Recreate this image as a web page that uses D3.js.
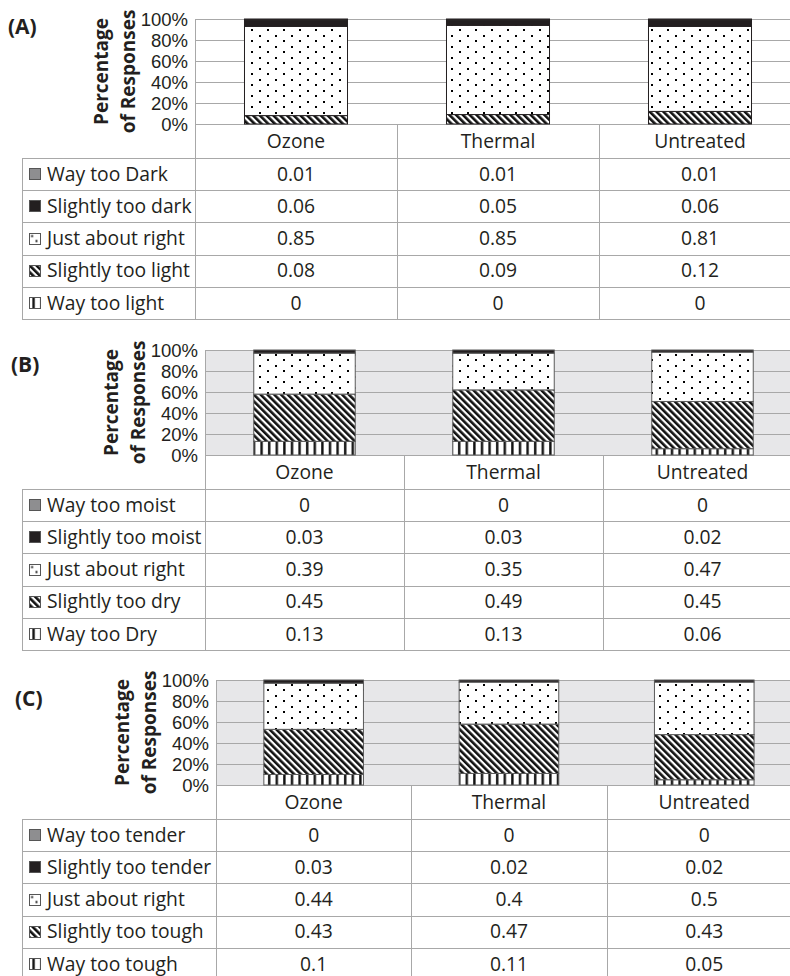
<!DOCTYPE html>
<html>
<head>
<meta charset="utf-8">
<script src="https://cdn.jsdelivr.net/npm/d3@7"></script>
<style>
  body { margin: 0; background: #fff; }
  svg { display: block; }
  text { font-family: 'Open Sans', sans-serif; fill: #231f20; }
</style>
</head>
<body>
<div id="chart"></div>
<script>
const categories = ['Ozone', 'Thermal', 'Untreated']
const percentTicks = [0, 0.2, 0.4, 0.6, 0.8, 1]

// (A) colour
const colorLabels = ['Way too Dark', 'Slightly too dark', 'Just about right', 'Slightly too light', 'Way too light']
const colorValues = [
  [0.01, 0.01, 0.01],
  [0.06, 0.05, 0.06],
  [0.85, 0.85, 0.81],
  [0.08, 0.09, 0.12],
  [0, 0, 0]
]

// (B) moistness
const moistLabels = ['Way too moist', 'Slightly too moist', 'Just about right', 'Slightly too dry', 'Way too Dry']
const moistValues = [
  [0, 0, 0],
  [0.03, 0.03, 0.02],
  [0.39, 0.35, 0.47],
  [0.45, 0.49, 0.45],
  [0.13, 0.13, 0.06]
]

// (C) tenderness
const tenderLabels = ['Way too tender', 'Slightly too tender', 'Just about right', 'Slightly too tough', 'Way too tough']
const tenderValues = [
  [0, 0, 0],
  [0.03, 0.02, 0.02],
  [0.44, 0.4, 0.5],
  [0.43, 0.47, 0.43],
  [0.1, 0.11, 0.05]
]

const panels = [
  { tag: '(A)', tagX: 8, tagY: 34, top: 19, left: 195, step: 202, bg: '#ffffff', barStroke: '#231f20', labels: colorLabels, values: colorValues },
  { tag: '(B)', tagX: 11, tagY: 372, top: 350, left: 205, step: 199, bg: '#e7e7e9', barStroke: '#5a5a5a', labels: moistLabels, values: moistValues },
  { tag: '(C)', tagX: 15, tagY: 706, top: 680, left: 216, step: 195.3, bg: '#e7e7e9', barStroke: '#5a5a5a', labels: tenderLabels, values: tenderValues }
]

const W = 790, H = 976
const plotH = 105
const headH = 34
const rowH = 32.2
const tableLeft = 22
const lineColor = '#a8a8a8'
const fontSize = 19.3

const svg = d3.select('#chart').append('svg')
  .attr('width', W)
  .attr('height', H)
svg.append('rect').attr('width', W).attr('height', H).attr('fill', '#fff')

// fill patterns
const defs = svg.append('defs')
let dots = defs.append('pattern')
  .attr('id', 'dots')
  .attr('patternUnits', 'userSpaceOnUse')
  .attr('width', 16).attr('height', 11)
dots.append('rect').attr('width', 16).attr('height', 11).attr('fill', '#fff')
dots.append('rect').attr('x', 3).attr('y', 2).attr('width', 2).attr('height', 2).attr('fill', '#000')
dots.append('rect').attr('x', 11).attr('y', 7).attr('width', 2).attr('height', 2).attr('fill', '#000')

// small version for the table key
let dotsKey = defs.append('pattern')
  .attr('id', 'dotsKey')
  .attr('patternUnits', 'objectBoundingBox')
  .attr('patternContentUnits', 'objectBoundingBox')
  .attr('width', 1).attr('height', 1)
dotsKey.append('rect').attr('width', 1).attr('height', 1).attr('fill', '#fff')
dotsKey.append('rect').attr('x', 0.15).attr('y', 0.15).attr('width', 0.17).attr('height', 0.17).attr('fill', '#000')
dotsKey.append('rect').attr('x', 0.55).attr('y', 0.6).attr('width', 0.17).attr('height', 0.17).attr('fill', '#000')

let diag = defs.append('pattern')
  .attr('id', 'diag')
  .attr('patternUnits', 'userSpaceOnUse')
  .attr('width', 4.8).attr('height', 10)
  .attr('patternTransform', 'rotate(-45)')
diag.append('rect').attr('width', 4.8).attr('height', 10).attr('fill', '#fff')
diag.append('rect').attr('width', 2.6).attr('height', 10).attr('fill', '#111')

let vert = defs.append('pattern')
  .attr('id', 'vert')
  .attr('patternUnits', 'userSpaceOnUse')
  .attr('width', 7.6).attr('height', 10)
vert.append('rect').attr('width', 7.6).attr('height', 10).attr('fill', '#fff')
vert.append('rect').attr('x', 2).attr('width', 2.4).attr('height', 10).attr('fill', '#111')

// row index -> fill (rows listed top to bottom, stacked bottom to top)
const fills = ['#8e8e90', '#231f20', 'url(#dots)', 'url(#diag)', 'url(#vert)']
const keyFills = ['#8e8e90', '#231f20', 'url(#dotsKey)', 'url(#diag)', 'url(#vert)']
const px = (v) => Math.round(v) + 0.5

panels.forEach((p) => {
  let g = svg.append('g')
  let bottom = p.top + plotH

  let ys = d3.scaleLinear().domain([0, 1]).range([bottom, p.top])
  let xs = d3.scaleBand()
    .domain(categories)
    .range([p.left, p.left + 3 * p.step])
    .paddingInner(0.49)
    .paddingOuter(0.245)
  let right = xs.range()[1]

  // plot background + gridlines
  g.append('rect')
    .attr('x', p.left).attr('y', p.top)
    .attr('width', right - p.left).attr('height', plotH)
    .attr('fill', p.bg)
  g.selectAll('.grid')
    .data(percentTicks)
    .enter()
    .append('path')
    .attr('d', (d) => `M${p.left},${px(ys(d))}H${right}`)
    .attr('stroke', lineColor)
  g.append('path')
    .attr('d', `M${px(p.left)},${px(p.top)}V${bottom}`)
    .attr('stroke', lineColor)

  // y axis tick labels
  let yAxis = g.append('g')
    .attr('transform', `translate(${p.left - 7},0)`)
    .call(d3.axisLeft(ys).tickValues(percentTicks).tickFormat(d3.format('.0%')).tickSize(0).tickPadding(0))
  yAxis.select('.domain').remove()
  yAxis.selectAll('text')
    .attr('font-family', null)
    .style('font-family', "'Liberation Sans', sans-serif")
    .style('font-size', '18.5px')
    .attr('dy', '0.36em')

  // y axis title (two lines)
  let cy = (p.top + bottom) / 2
  g.append('text')
    .attr('transform', `translate(${p.left - 94},${cy}) rotate(-90)`)
    .attr('text-anchor', 'middle')
    .attr('dy', '0.35em')
    .style('font-size', '19px')
    .style('font-weight', 'bold')
    .text('Percentage')
  g.append('text')
    .attr('transform', `translate(${p.left - 67},${cy}) rotate(-90)`)
    .attr('text-anchor', 'middle')
    .attr('dy', '0.35em')
    .style('font-size', '19px')
    .style('font-weight', 'bold')
    .text('of Responses')

  // panel tag
  g.append('text')
    .attr('x', p.tagX).attr('y', p.tagY)
    .style('font-size', '21px')
    .style('font-weight', 'bold')
    .text(p.tag)

  // stacked bars
  let rows = categories.map((c, i) => {
    let o = { cat: c }
    p.values.forEach((vals, k) => { o['s' + k] = vals[i] })
    return o
  })
  let stack = d3.stack().keys(['s4', 's3', 's2', 's1', 's0'])
  let series = stack(rows)
  g.selectAll('.series')
    .data(series)
    .enter()
    .append('g')
    .attr('fill', (s) => fills[+s.key.slice(1)])
    .selectAll('rect')
    .data((s) => s.filter((d) => d[1] - d[0] > 0))
    .enter()
    .append('rect')
    .attr('x', (d) => xs(d.data.cat))
    .attr('width', xs.bandwidth())
    .attr('y', (d) => ys(d[1]))
    .attr('height', (d) => ys(d[0]) - ys(d[1]))
    .attr('stroke', p.barStroke)
    .attr('stroke-width', 1)

  // data table
  let headBottom = bottom + headH
  let tableBottom = headBottom + rowH * p.labels.length
  let colEdges = d3.range(4).map((i) => p.left + i * p.step)

  g.selectAll('.col')
    .data(colEdges)
    .enter()
    .append('path')
    .attr('d', (d) => `M${px(d)},${bottom}V${tableBottom}`)
    .attr('stroke', lineColor)
  g.append('path')
    .attr('d', `M${px(tableLeft)},${headBottom}V${tableBottom}`)
    .attr('stroke', lineColor)
  g.selectAll('.row')
    .data(d3.range(p.labels.length + 1))
    .enter()
    .append('path')
    .attr('d', (i) => `M${tableLeft},${px(headBottom + i * rowH)}H${right}`)
    .attr('stroke', lineColor)

  // category header
  g.selectAll('.cat')
    .data(categories)
    .enter()
    .append('text')
    .attr('x', (d) => xs(d) + xs.bandwidth() / 2)
    .attr('y', bottom + headH / 2)
    .attr('dy', '0.35em')
    .attr('text-anchor', 'middle')
    .style('font-size', fontSize + 'px')
    .text((d) => d)

  // table rows
  p.labels.forEach((label, k) => {
    let cyRow = headBottom + rowH * k + rowH / 2
    g.append('rect')
      .attr('x', tableLeft + 7.5).attr('y', Math.round(cyRow - 6) + 0.5)
      .attr('width', 11).attr('height', 11)
      .attr('fill', keyFills[k])
      .attr('stroke', '#555')
    g.append('text')
      .attr('x', tableLeft + 25)
      .attr('y', cyRow)
      .attr('dy', '0.35em')
      .style('font-size', fontSize + 'px')
      .text(label)
    g.selectAll('.val' + k)
      .data(p.values[k])
      .enter()
      .append('text')
      .attr('x', (d, i) => xs(categories[i]) + xs.bandwidth() / 2)
      .attr('y', cyRow)
      .attr('dy', '0.35em')
      .attr('text-anchor', 'middle')
      .style('font-size', fontSize + 'px')
      .text((d) => String(d))
  })
})
</script>
</body>
</html>
